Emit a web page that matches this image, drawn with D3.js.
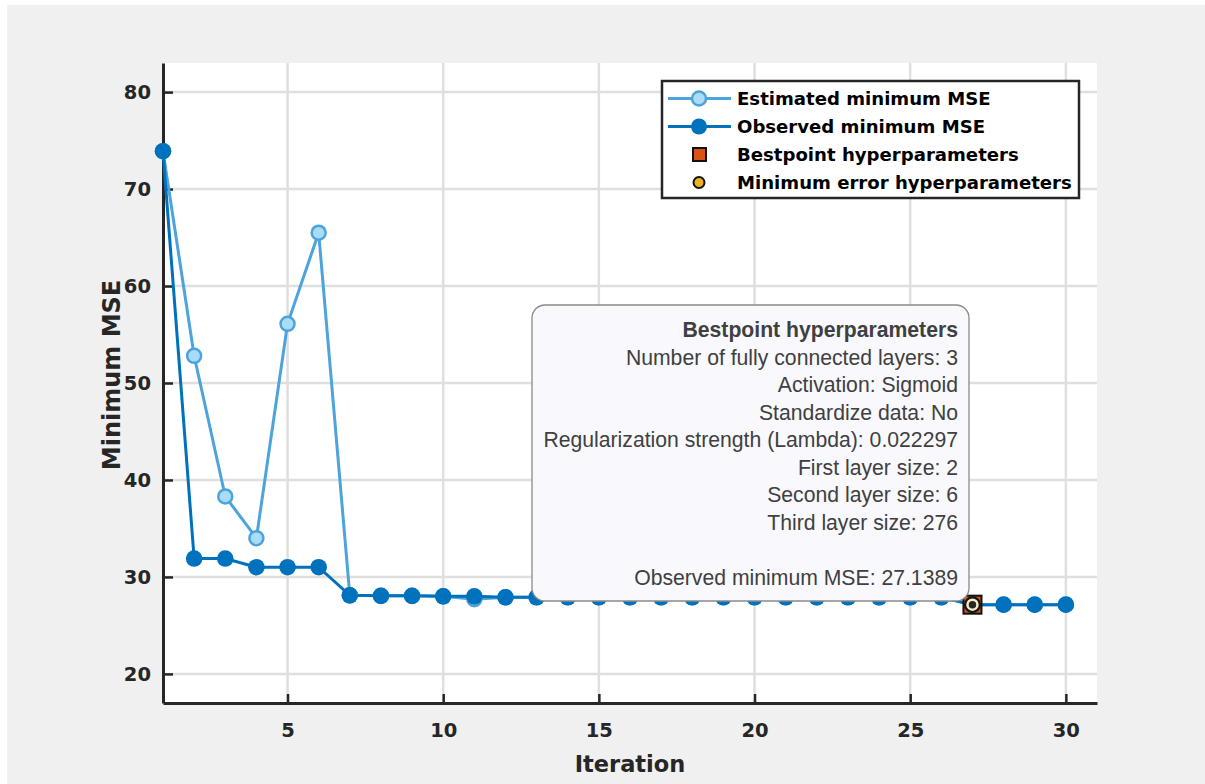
<!DOCTYPE html>
<html>
<head>
<meta charset="utf-8">
<script src="https://cdn.jsdelivr.net/npm/d3@7"></script>
<style>
  body { margin: 0; background: #ffffff; }
  #fig { position: absolute; left: 7px; top: 5px; }
  .tick text { font-family: "DejaVu Sans", sans-serif; font-weight: bold; fill: #262626; }
</style>
</head>
<body>
<div id="fig"></div>
<script>

/// data

const iterations = d3.range(1, 31);

const estimatedMSE = [73.9, 52.8, 38.3, 34.0, 56.1, 65.5, 28.1, 28.05, 28.05, 28.0,
  27.7, 27.9, 27.9, 27.9, 27.9, 27.9, 27.9, 27.9, 27.9, 27.9,
  27.9, 27.9, 27.9, 27.9, 27.9, 27.9, 27.14, 27.14, 27.14, 27.14];

const observedMSE = [73.9, 31.9, 31.9, 31.0, 31.0, 31.0, 28.1, 28.05, 28.05, 28.0,
  28.0, 27.9, 27.9, 27.9, 27.9, 27.9, 27.9, 27.9, 27.9, 27.9,
  27.9, 27.9, 27.9, 27.9, 27.9, 27.9, 27.14, 27.14, 27.14, 27.14];

const bestIteration = 27;
const bestValue = 27.1389;

const xTicks = [5, 10, 15, 20, 25, 30];
const yTicks = [20, 30, 40, 50, 60, 70, 80];

const legendNames = ["Estimated minimum MSE", "Observed minimum MSE",
  "Bestpoint hyperparameters", "Minimum error hyperparameters"];

const noteLines = [
  "Bestpoint hyperparameters",
  "Number of fully connected layers: 3",
  "Activation: Sigmoid",
  "Standardize data: No",
  "Regularization strength (Lambda): 0.022297",
  "First layer size: 2",
  "Second layer size: 6",
  "Third layer size: 276",
  "",
  "Observed minimum MSE: 27.1389"
];

///////////////////////////////////////////////////////////////////////////////

const width = 1198;
const height = 779;

// plot area, in the coordinates of the svg (which sits 7,5 into the page)
const margin = { top: 58, right: 108, bottom: 81, left: 156 };

const estColour = "#4da3db";
const estFill = "#a9dcf8";
const obsColour = "#0072bd";
const axisColour = "#262626";

let svg = d3.select("#fig").append("svg")
  .attr("width", width)
  .attr("height", height);

svg.append("rect")
  .attr("width", width)
  .attr("height", height)
  .style("fill", "#f0f0f0");

let x = d3.scaleLinear()
  .domain([1, 31])
  .range([margin.left, width - margin.right]);

let y = d3.scaleLinear()
  .domain([17, 83])
  .range([height - margin.bottom, margin.top]);

svg.append("rect")
  .attr("x", x(1))
  .attr("y", y(83))
  .attr("width", x(31) - x(1))
  .attr("height", y(17) - y(83))
  .style("fill", "#ffffff");

// grid
svg.append("g").selectAll("line")
  .data(xTicks)
  .enter().append("line")
  .attr("x1", d => x(d)).attr("x2", d => x(d))
  .attr("y1", y(83)).attr("y2", y(17))
  .style("stroke", "#dfdfdf")
  .style("stroke-width", 2.5);

svg.append("g").selectAll("line")
  .data(yTicks)
  .enter().append("line")
  .attr("x1", x(1)).attr("x2", x(31))
  .attr("y1", d => y(d)).attr("y2", d => y(d))
  .style("stroke", "#dfdfdf")
  .style("stroke-width", 2.5);

// axes (ticks point inward, like matlab)
let xAxis = d3.axisBottom(x)
  .tickValues(xTicks)
  .tickSize(-9)
  .tickPadding(20)
  .tickSizeOuter(0);

let yAxis = d3.axisLeft(y)
  .tickValues(yTicks)
  .tickSize(-10)
  .tickPadding(12)
  .tickSizeOuter(0);

let gx = svg.append("g")
  .attr("transform", `translate(0, ${y(17)})`)
  .call(xAxis);

let gy = svg.append("g")
  .attr("transform", `translate(${x(1)}, 0)`)
  .call(yAxis);

[gx, gy].forEach(g => {
  g.select(".domain").style("stroke", axisColour).style("stroke-width", 3);
  g.selectAll(".tick line").style("stroke", axisColour).style("stroke-width", 2.5);
  g.selectAll(".tick text").style("font-size", "19.5px");
});

svg.append("text")
  .attr("x", (x(1) + x(31)) / 2)
  .attr("y", height - 12)
  .style("text-anchor", "middle")
  .style("font-family", "DejaVu Sans, sans-serif")
  .style("font-weight", "bold")
  .style("font-size", "22.5px")
  .style("fill", axisColour)
  .text("Iteration");

svg.append("text")
  .attr("transform", `translate(113, 370) rotate(-90)`)
  .style("text-anchor", "middle")
  .style("font-family", "DejaVu Sans, sans-serif")
  .style("font-weight", "bold")
  .style("font-size", "24px")
  .style("fill", axisColour)
  .text("Minimum MSE");

// the two series
let line = d3.line()
  .x((d, i) => x(iterations[i]))
  .y(d => y(d));

let plot = svg.append("g");

plot.append("path")
  .datum(estimatedMSE)
  .attr("d", line)
  .style("fill", "none")
  .style("stroke", estColour)
  .style("stroke-width", 3);

plot.selectAll("circle.est")
  .data(estimatedMSE)
  .enter().append("circle")
  .attr("class", "est")
  .attr("cx", (d, i) => x(iterations[i]))
  .attr("cy", d => y(d))
  .attr("r", 7)
  .style("fill", estFill)
  .style("stroke", estColour)
  .style("stroke-width", 2.5);

plot.append("path")
  .datum(observedMSE)
  .attr("d", line)
  .style("fill", "none")
  .style("stroke", obsColour)
  .style("stroke-width", 3);

plot.selectAll("circle.obs")
  .data(observedMSE)
  .enter().append("circle")
  .attr("class", "obs")
  .attr("cx", (d, i) => x(iterations[i]))
  .attr("cy", d => y(d))
  .attr("r", 8.3)
  .style("fill", obsColour);

// bestpoint + minimum error markers
let bx = x(bestIteration), by = y(bestValue);

plot.append("rect")
  .attr("x", bx - 9).attr("y", by - 9)
  .attr("width", 18).attr("height", 18)
  .style("fill", "#d95319")
  .style("stroke", "#111111")
  .style("stroke-width", 2);

plot.append("circle")
  .attr("cx", bx).attr("cy", by).attr("r", 8.5)
  .style("fill", "#161616");

plot.append("circle")
  .attr("cx", bx).attr("cy", by).attr("r", 5)
  .style("fill", "#262626")
  .style("stroke", "#f2ecc9")
  .style("stroke-width", 2.5);

// the datatip box
let note = svg.append("g");

note.append("rect")
  .attr("x", 525).attr("y", 300)
  .attr("width", 437).attr("height", 296)
  .attr("rx", 13)
  .style("fill", "#f8f8fd")
  .style("stroke", "#8a8a8a")
  .style("stroke-width", 1.3);

note.selectAll("text")
  .data(noteLines)
  .enter().append("text")
  .attr("x", 951)
  .attr("y", (d, i) => 332 + i * 27.5)
  .style("text-anchor", "end")
  .style("font-family", "Liberation Sans, Arial, sans-serif")
  .style("font-size", "21.2px")
  .style("font-weight", (d, i) => i == 0 ? "bold" : "normal")
  .style("fill", "#404040")
  .text(d => d);

// legend
let legend = svg.append("g");

legend.append("rect")
  .attr("x", 655).attr("y", 76)
  .attr("width", 417).attr("height", 117)
  .style("fill", "#ffffff")
  .style("stroke", axisColour)
  .style("stroke-width", 2.5);

let rowY = i => 93.5 + i * 28;

legend.append("line")
  .attr("x1", 661).attr("x2", 724)
  .attr("y1", rowY(0)).attr("y2", rowY(0))
  .style("stroke", estColour).style("stroke-width", 3);
legend.append("circle")
  .attr("cx", 692).attr("cy", rowY(0)).attr("r", 7)
  .style("fill", estFill).style("stroke", estColour).style("stroke-width", 2.5);

legend.append("line")
  .attr("x1", 661).attr("x2", 724)
  .attr("y1", rowY(1)).attr("y2", rowY(1))
  .style("stroke", obsColour).style("stroke-width", 3);
legend.append("circle")
  .attr("cx", 692).attr("cy", rowY(1)).attr("r", 8)
  .style("fill", obsColour);

legend.append("rect")
  .attr("x", 686).attr("y", rowY(2) - 6.5)
  .attr("width", 13).attr("height", 13)
  .style("fill", "#d95319").style("stroke", "#111").style("stroke-width", 2);

legend.append("circle")
  .attr("cx", 692).attr("cy", rowY(3)).attr("r", 5.5)
  .style("fill", "#edb120").style("stroke", "#111").style("stroke-width", 2);

legend.selectAll("text")
  .data(legendNames)
  .enter().append("text")
  .attr("x", 730)
  .attr("y", (d, i) => rowY(i) + 6.5)
  .style("font-family", "DejaVu Sans, sans-serif")
  .style("font-weight", "bold")
  .style("font-size", "18.1px")
  .style("fill", "#000")
  .text(d => d);

</script>
</body>
</html>
